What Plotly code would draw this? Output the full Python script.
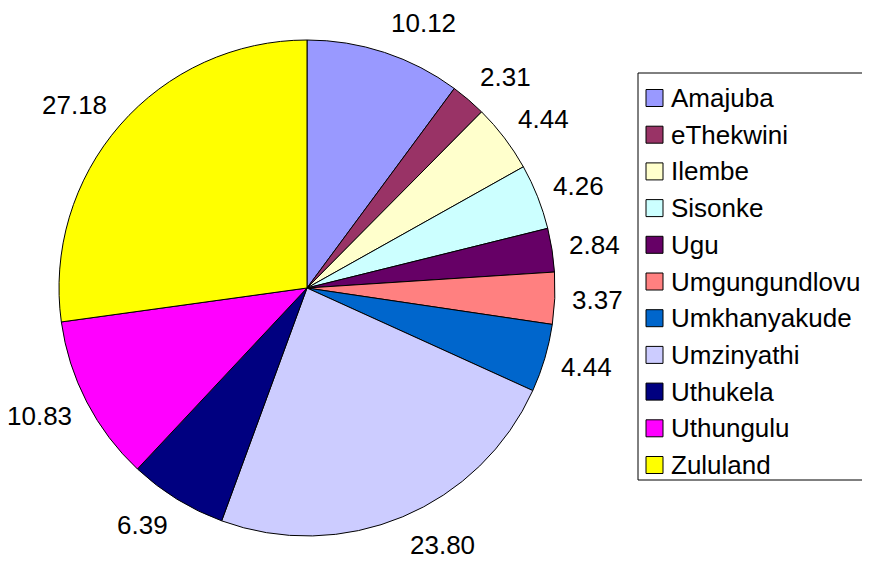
import math
import plotly.graph_objects as go

categories = ["Amajuba", "eThekwini", "Ilembe", "Sisonke", "Ugu", "Umgungundlovu",
              "Umkhanyakude", "Umzinyathi", "Uthukela", "Uthungulu", "Zululand"]
values = [10.12, 2.31, 4.44, 4.26, 2.84, 3.37, 4.44, 23.80, 6.39, 10.83, 27.18]
colors = ["#9999FF", "#993366", "#FFFFCC", "#CCFFFF", "#660066", "#FF8080",
          "#0066CC", "#CCCCFF", "#000080", "#FF00FF", "#FFFF00"]

# page body has an 8px margin; work in screen pixels and convert
OFF = 8
W, H = 870 - OFF, 561 - OFF
FONT = "Liberation Sans, Arial, sans-serif"


def px(x):
    return (x - OFF) / W


def py(y):
    return 1 - (y - OFF) / H


cx, cy, r = 307, 288, 248
fig = go.Figure(go.Pie(
    labels=categories, values=values, sort=False, direction="clockwise", rotation=0,
    marker=dict(colors=colors, line=dict(color="black", width=1)),
    textinfo="none",
    domain=dict(x=[px(cx - r), px(cx + r)], y=[py(cy + r), py(cy - r)]),
    showlegend=False, hoverinfo="label+value",
))

annotations = []
shapes = []

# data labels placed outside the slices at their mid-angles
total = sum(values)
cum = 0.0
for v in values:
    mid = (cum + v / 2) / total * 2 * math.pi
    cum += v
    ux, uy = math.sin(mid), -math.cos(mid)
    x = cx + (r + 16) * ux
    y = cy + (r + 16) * uy + 14.5 * uy
    annotations.append(dict(xref="paper", yref="paper", x=px(x), y=py(y),
                            xanchor="left" if ux >= 0 else "right", yanchor="middle",
                            text=f"{v:.2f}", showarrow=False, borderpad=0,
                            font=dict(family=FONT, size=26, color="black")))

# legend drawn manually
lx0, lx1, ly0, ly1 = 638, 866, 73, 480
shapes.append(dict(type="rect", xref="paper", yref="paper",
                   x0=px(lx0), x1=px(lx1), y0=py(ly1), y1=py(ly0),
                   line=dict(color="black", width=1), fillcolor="white", layer="below"))
row0, step, sw = 98, 36.7, 17
for i, (name, col) in enumerate(zip(categories, colors)):
    yc = row0 + i * step
    shapes.append(dict(type="rect", xref="paper", yref="paper",
                       x0=px(646), x1=px(646 + sw),
                       y0=py(yc + sw / 2), y1=py(yc - sw / 2),
                       fillcolor=col, line=dict(color="black", width=1)))
    annotations.append(dict(xref="paper", yref="paper", x=px(670), y=py(yc),
                            xanchor="left", yanchor="middle", text=name, showarrow=False,
                            borderpad=0,
                            font=dict(family=FONT, size=26, color="black")))

fig.update_layout(width=W, height=H, margin=dict(l=0, r=0, t=0, b=0),
                  paper_bgcolor="white", plot_bgcolor="white",
                  shapes=shapes, annotations=annotations)
fig.write_html("out.html")
